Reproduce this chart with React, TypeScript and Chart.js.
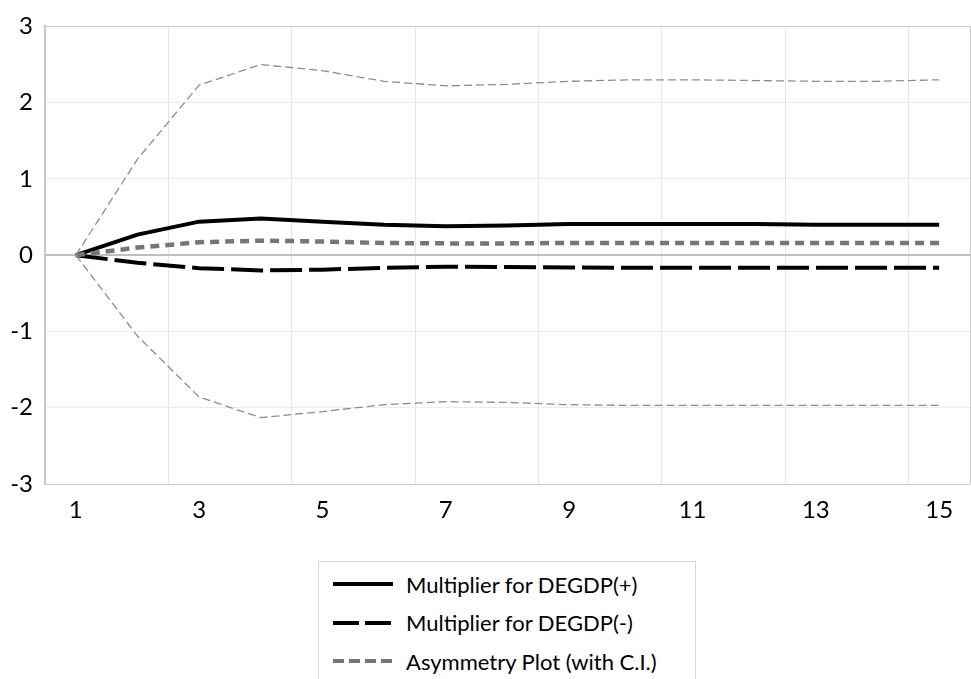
import React, { useEffect, useRef } from 'react';
import { Chart, registerables } from 'chart.js';

Chart.register(...registerables);

const periods = ['1', '2', '3', '4', '5', '6', '7', '8', '9', '10', '11', '12', '13', '14', '15'];
const multPlus = [0, 0.27, 0.44, 0.48, 0.44, 0.40, 0.38, 0.39, 0.41, 0.41, 0.41, 0.41, 0.40, 0.40, 0.40];
const multMinus = [0, -0.10, -0.17, -0.20, -0.19, -0.165, -0.15, -0.155, -0.16, -0.165, -0.165, -0.165, -0.165, -0.165, -0.165];
const asymmetry = [0, 0.10, 0.17, 0.19, 0.18, 0.16, 0.155, 0.155, 0.16, 0.16, 0.16, 0.16, 0.16, 0.16, 0.16];
const upperCI = [0, 1.26, 2.23, 2.50, 2.42, 2.28, 2.22, 2.24, 2.28, 2.30, 2.30, 2.29, 2.28, 2.28, 2.30];
const lowerCI = [0, -1.06, -1.86, -2.13, -2.05, -1.96, -1.92, -1.93, -1.96, -1.97, -1.97, -1.97, -1.97, -1.97, -1.97];
const yTicks = [-3, -2, -1, 0, 1, 2, 3];

const legendItems = [
  { label: 'Multiplier for DEGDP(+)', color: '#000000', dash: '' },
  { label: 'Multiplier for DEGDP(-)', color: '#000000', dash: '26 6' },
  { label: 'Asymmetry Plot (with C.I.)', color: '#767676', dash: '11 5' },
];

const FONT = 'Lato, "Open Sans", sans-serif';

export default function App() {
  const ref = useRef<HTMLCanvasElement>(null);

  useEffect(() => {
    document.body.style.margin = '0';
    const canvas = ref.current!;
    const chart = new Chart(canvas, {
      type: 'line',
      data: {
        labels: periods,
        datasets: [
          {
            label: 'Upper C.I.',
            data: upperCI,
            borderColor: '#8c8c8c',
            borderWidth: 1.3,
            borderDash: [8, 4],
            pointRadius: 0,
            tension: 0,
          },
          {
            label: 'Lower C.I.',
            data: lowerCI,
            borderColor: '#8c8c8c',
            borderWidth: 1.3,
            borderDash: [8, 4],
            pointRadius: 0,
            tension: 0,
          },
          {
            label: 'Asymmetry Plot (with C.I.)',
            data: asymmetry,
            borderColor: '#767676',
            borderWidth: 4.5,
            borderDash: [9, 6],
            pointRadius: 0,
            tension: 0,
          },
          {
            label: 'Multiplier for DEGDP(-)',
            data: multMinus,
            borderColor: '#000000',
            borderWidth: 4,
            borderDash: [32, 7],
            pointRadius: 0,
            tension: 0,
          },
          {
            label: 'Multiplier for DEGDP(+)',
            data: multPlus,
            borderColor: '#000000',
            borderWidth: 4,
            pointRadius: 0,
            tension: 0,
          },
        ],
      },
      options: {
        animation: false,
        responsive: false,
        maintainAspectRatio: false,
        layout: { padding: { top: 25, right: 1, left: 0, bottom: 0 } },
        plugins: {
          legend: { display: false },
          tooltip: { enabled: false },
        },
        scales: {
          x: {
            type: 'category',
            offset: true,
            grid: {
              offset: true,
              drawTicks: false,
              lineWidth: 1,
              color: (ctx: any) => {
                if (ctx.index === undefined) return '#c8c8c8';
                if (ctx.index === 0) return 'rgba(0,0,0,0)';
                return ctx.index % 2 === 0 ? '#e6e6e6' : 'rgba(0,0,0,0)';
              },
            },
            border: { display: false },
            ticks: {
              autoSkip: false,
              maxRotation: 0,
              padding: 12,
              color: '#000000',
              font: { family: FONT, size: 24 },
              callback: (_v: any, i: number) => (i % 2 === 0 ? periods[i] : ''),
            },
            afterFit: (s: any) => {
              s.height = 56;
            },
          },
          y: {
            min: -3,
            max: 3,
            afterBuildTicks: (s: any) => {
              s.ticks = yTicks.map((v) => ({ value: v }));
            },
            grid: {
              drawTicks: false,
              color: (ctx: any) => {
                const v = ctx.tick?.value;
                if (v === 0) return '#bfbfbf';
                if (v === 3 || v === -3) return '#c8c8c8';
                return '#ececec';
              },
              lineWidth: (ctx: any) => (ctx.tick?.value === 0 ? 2 : 1),
            },
            border: { color: '#c8c8c8', width: 2 },
            ticks: {
              padding: 12,
              color: '#000000',
              font: { family: FONT, size: 24 },
            },
            afterFit: (s: any) => {
              s.width = 45;
            },
          },
        },
      },
    });
    return () => chart.destroy();
  }, []);

  return (
    <div style={{ position: 'fixed', left: 0, top: 0, width: 971, height: 679, overflow: 'hidden', background: '#fff' }}>
      <canvas ref={ref} width={971} height={540} style={{ display: 'block' }} />
      <div
        style={{
          position: 'absolute',
          left: 318,
          top: 561,
          width: 378,
          height: 140,
          border: '1px solid #d9d9d9',
          boxSizing: 'border-box',
          fontFamily: FONT,
          fontSize: 22,
          color: '#000',
        }}
      >
        {legendItems.map((it, i) => (
          <div
            key={it.label}
            style={{ position: 'absolute', left: 13, top: 22 + i * 38.5 - 15, height: 30, display: 'flex', alignItems: 'center', whiteSpace: 'nowrap' }}
          >
            <svg width={62} height={30} style={{ display: 'block' }}>
              <line x1={1} y1={15} x2={61} y2={15} stroke={it.color} strokeWidth={4} strokeDasharray={it.dash || undefined} />
            </svg>
            <span style={{ marginLeft: 12 }}>{it.label}</span>
          </div>
        ))}
      </div>
    </div>
  );
}
